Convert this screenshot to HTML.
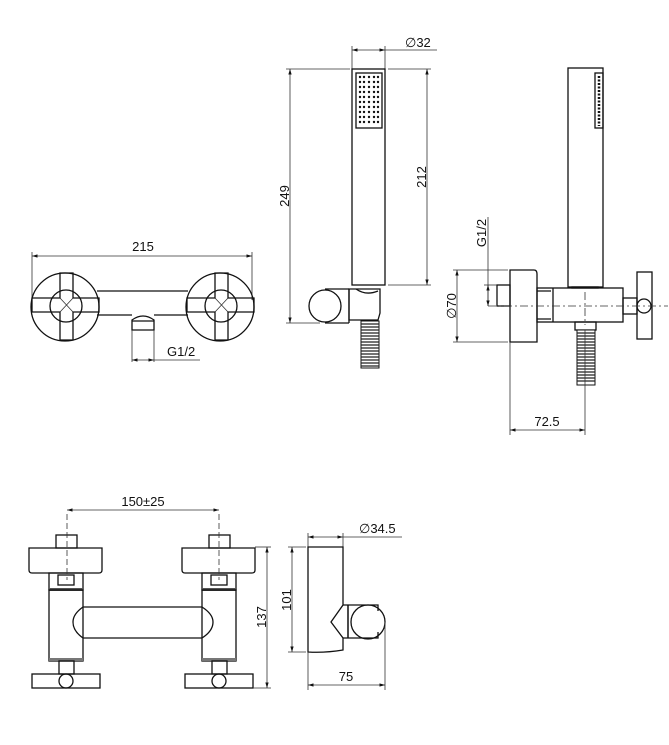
<!DOCTYPE html>
<html><head><meta charset="utf-8"><style>
html,body{margin:0;padding:0;background:#fff}
svg{display:block}
text{font-family:"Liberation Sans",sans-serif;font-size:13px;fill:#111}
.o{fill:none;stroke:#111;stroke-width:1.3}
.d{fill:none;stroke:#333;stroke-width:0.8}
.c{fill:none;stroke:#333;stroke-width:0.8;stroke-dasharray:8 3 2 3}
</style></head><body>
<svg width="669" height="745" viewBox="0 0 669 745" xmlns="http://www.w3.org/2000/svg">
<defs>
<marker id="a" viewBox="0 0 10 10" refX="10" refY="5" markerWidth="7" markerHeight="7" orient="auto-start-reverse"><path d="M0,2 L10,5 L0,8z" fill="#111"/></marker>
</defs>

<!-- ===== Front view top-left ===== -->
<line class="d" x1="32" y1="256" x2="252" y2="256" marker-start="url(#a)" marker-end="url(#a)"/>
<line class="d" x1="32" y1="252" x2="32" y2="300"/>
<line class="d" x1="252" y1="252" x2="252" y2="300"/>
<text x="143" y="251" text-anchor="middle">215</text>
<path class="o" d="M97,291 H188 M97,315 H132 M154,315 H188"/>
<g id="ros">
<circle class="o" cx="65" cy="307" r="34"/>
<circle class="o" cx="66" cy="306" r="16"/>
<path class="o" fill="#fff" d="M60,273 H73 V298 H99 V312 H73 V340 H60 V312 H32 V298 H60 Z"/>
<path class="d" d="M60,298 L73,312 M73,298 L60,312"/>
</g>
<use href="#ros" x="155"/>
<path class="o" d="M132,330 V320 Q143,312 154,320 V330 Z"/>
<line class="o" x1="132" y1="321" x2="154" y2="321"/>
<line class="d" x1="132" y1="330" x2="132" y2="362"/>
<line class="d" x1="154" y1="330" x2="154" y2="362"/>
<line class="d" x1="132" y1="360" x2="154" y2="360" marker-start="url(#a)" marker-end="url(#a)"/>
<line class="d" x1="154" y1="360" x2="200" y2="360"/>
<text x="167" y="356">G1/2</text>

<!-- ===== Hand shower front ===== -->
<line class="d" x1="352" y1="50" x2="385" y2="50" marker-start="url(#a)" marker-end="url(#a)"/>
<line class="d" x1="385" y1="50" x2="437" y2="50"/>
<line class="d" x1="352" y1="46" x2="352" y2="69"/>
<line class="d" x1="385" y1="46" x2="385" y2="69"/>
<text x="405" y="47">∅32</text>
<rect class="o" x="352" y="69" width="33" height="216"/>
<rect class="o" x="356" y="73" width="26" height="55"/>
<g fill="#111" id="dots">
<circle cx="360" cy="77" r="1.2"/><circle cx="364" cy="77" r="1.2"/><circle cx="369" cy="77" r="1.2"/><circle cx="374" cy="77" r="1.2"/><circle cx="378" cy="77" r="1.2"/>
</g>
<use href="#dots" y="5"/><use href="#dots" y="10"/><use href="#dots" y="15"/><use href="#dots" y="20"/><use href="#dots" y="25"/><use href="#dots" y="30"/><use href="#dots" y="35"/><use href="#dots" y="40"/><use href="#dots" y="45"/>
<line class="d" x1="290" y1="69" x2="290" y2="323" marker-start="url(#a)" marker-end="url(#a)"/>
<line class="d" x1="286" y1="69" x2="350" y2="69"/>
<line class="d" x1="286" y1="323" x2="320" y2="323"/>
<text transform="translate(289,196) rotate(-90)" text-anchor="middle">249</text>
<line class="d" x1="427" y1="69" x2="427" y2="285" marker-start="url(#a)" marker-end="url(#a)"/>
<line class="d" x1="388" y1="69" x2="431" y2="69"/>
<line class="d" x1="388" y1="285" x2="431" y2="285"/>
<text transform="translate(426,177) rotate(-90)" text-anchor="middle">212</text>
<circle class="o" cx="325" cy="306" r="16"/>
<path class="o" d="M349,289 H380 V313 L378,320 H349 Z"/>
<line class="o" x1="349" y1="289" x2="349" y2="323"/>
<path class="o" d="M325,289 H349 M325,323 H349"/>
<path class="o" d="M356,289 Q366,296 378,291"/>
<rect x="361" y="321" width="18" height="47" fill="#fff" stroke="#111" stroke-width="1"/>
<path d="M361,324 h18 M361,327 h18 M361,330 h18 M361,333 h18 M361,336 h18 M361,339 h18 M361,342 h18 M361,345 h18 M361,348 h18 M361,351 h18 M361,354 h18 M361,357 h18 M361,360 h18 M361,363 h18 M361,366 h18" stroke="#222" stroke-width="1.2"/>

<!-- ===== Side view top-right ===== -->
<rect class="o" x="568" y="68" width="35" height="219"/>
<rect class="o" x="595" y="73" width="8" height="55"/>
<path d="M599,76 V126" stroke="#111" stroke-width="2.5" stroke-dasharray="2 1.5"/>
<path class="o" d="M510,270 H534 Q537,270 537,274 V342 H510 Z"/>
<rect class="o" x="497" y="285" width="13" height="21"/>
<rect class="o" x="537" y="288" width="86" height="34"/>
<line class="o" x1="553" y1="288" x2="553" y2="322"/>
<path class="o" d="M537,291 H551 M537,319 H551"/>
<rect class="o" x="572" y="287" width="26" height="1"/>
<rect class="o" x="623" y="298" width="14" height="16"/>
<rect class="o" x="637" y="272" width="15" height="67"/>
<circle class="o" cx="644" cy="306" r="7" fill="#fff"/>
<line class="c" x1="488" y1="306" x2="668" y2="306"/>
<line class="c" x1="585" y1="292" x2="585" y2="325"/>
<rect class="o" x="575" y="322" width="21" height="8"/>
<rect x="577" y="330" width="18" height="55" fill="#fff" stroke="#111" stroke-width="1"/>
<path d="M577,333 h18 M577,336 h18 M577,339 h18 M577,342 h18 M577,345 h18 M577,348 h18 M577,351 h18 M577,354 h18 M577,357 h18 M577,360 h18 M577,363 h18 M577,366 h18 M577,369 h18 M577,372 h18 M577,375 h18 M577,378 h18 M577,381 h18" stroke="#222" stroke-width="1.2"/>
<line class="d" x1="457" y1="270" x2="457" y2="342" marker-start="url(#a)" marker-end="url(#a)"/>
<line class="d" x1="453" y1="270" x2="508" y2="270"/>
<line class="d" x1="453" y1="342" x2="508" y2="342"/>
<text transform="translate(456,306) rotate(-90)" text-anchor="middle">∅70</text>
<line class="d" x1="488" y1="217" x2="488" y2="306"/>
<line class="d" x1="488" y1="285" x2="488" y2="306" marker-start="url(#a)" marker-end="url(#a)"/>
<line class="d" x1="484" y1="285" x2="497" y2="285"/>
<text transform="translate(486,233) rotate(-90)" text-anchor="middle">G1/2</text>
<line class="d" x1="510" y1="342" x2="510" y2="435"/>
<line class="d" x1="585" y1="330" x2="585" y2="435"/>
<line class="d" x1="510" y1="430" x2="585" y2="430" marker-start="url(#a)" marker-end="url(#a)"/>
<text x="547" y="426" text-anchor="middle">72.5</text>

<!-- ===== Bottom front view ===== -->
<line class="d" x1="67" y1="510" x2="219" y2="510" marker-start="url(#a)" marker-end="url(#a)"/>
<text x="143" y="506" text-anchor="middle">150±25</text>
<g id="valve">
<rect class="o" x="56" y="535" width="21" height="13"/>
<path class="o" d="M29,548 H102 V570 Q102,573 99,573 H32 Q29,573 29,570 Z"/>
<rect class="o" x="49" y="573" width="34" height="17"/>
<rect class="o" x="58" y="575" width="16" height="10"/>
<rect x="49" y="588" width="34" height="3" fill="#555"/>
<rect class="o" x="49" y="590" width="34" height="71"/>
<rect x="49" y="658" width="34" height="3" fill="#777"/>
<rect class="o" x="59" y="661" width="15" height="13"/>
<rect class="o" x="32" y="674" width="68" height="14"/>
<circle class="o" cx="66" cy="681" r="7" fill="#fff"/>
</g>
<use href="#valve" x="153"/>
<path class="o" d="M83,607 H202 Q213,614 213,622 Q213,631 202,638 H83 Q73,631 73,622 Q73,614 83,607 Z" fill="#fff"/>
<line x1="67" y1="514" x2="67" y2="580" stroke="#333" stroke-width="0.8" stroke-dasharray="6 3"/>
<line x1="219" y1="514" x2="219" y2="580" stroke="#333" stroke-width="0.8" stroke-dasharray="6 3"/>
<line class="d" x1="267" y1="547" x2="267" y2="688" marker-start="url(#a)" marker-end="url(#a)"/>
<line class="d" x1="255" y1="547" x2="271" y2="547"/>
<line class="d" x1="253" y1="688" x2="271" y2="688"/>
<text transform="translate(266,617) rotate(-90)" text-anchor="middle">137</text>

<!-- ===== Bottom side view ===== -->
<line class="d" x1="308" y1="537" x2="343" y2="537" marker-start="url(#a)" marker-end="url(#a)"/>
<line class="d" x1="343" y1="537" x2="402" y2="537"/>
<line class="d" x1="308" y1="533" x2="308" y2="547"/>
<line class="d" x1="343" y1="533" x2="343" y2="547"/>
<text x="359" y="533">∅34.5</text>
<path class="o" d="M308,547 H343 V605 L331,622 L343,638 V650 Q325,653 308,652 Z"/>
<path class="o" d="M343,605 H348 V638 H343 M348,605 H378 V611 M348,638 H378 V632"/>
<circle class="o" cx="368" cy="622" r="17" fill="#fff"/>
<line class="o" x1="348" y1="605" x2="348" y2="638"/>
<line class="d" x1="292" y1="547" x2="292" y2="652" marker-start="url(#a)" marker-end="url(#a)"/>
<line class="d" x1="288" y1="547" x2="306" y2="547"/>
<line class="d" x1="288" y1="652" x2="306" y2="652"/>
<text transform="translate(291,600) rotate(-90)" text-anchor="middle">101</text>
<line class="d" x1="308" y1="652" x2="308" y2="690"/>
<line class="d" x1="385" y1="622" x2="385" y2="690"/>
<line class="d" x1="308" y1="685" x2="385" y2="685" marker-start="url(#a)" marker-end="url(#a)"/>
<text x="346" y="681" text-anchor="middle">75</text>
</svg>
</body></html>
